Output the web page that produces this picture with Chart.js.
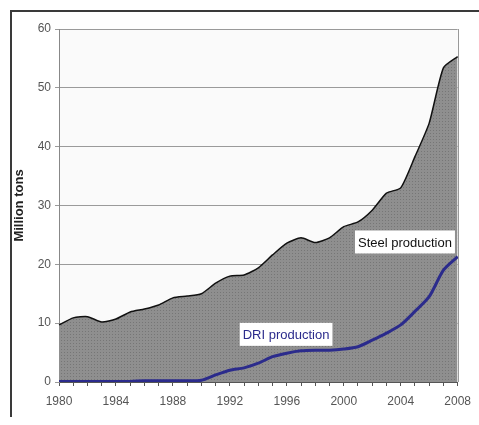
<!DOCTYPE html>
<html>
<head>
<meta charset="utf-8">
<script src="https://cdn.jsdelivr.net/npm/chart.js@4.4.1/dist/chart.umd.min.js"></script>
<style>
  html, body { margin: 0; padding: 0; background: #fff; }
  #wrap { position: relative; width: 479px; height: 425px; }
  #frame { position: absolute; left: 10px; top: 10px; width: 469px; height: 405px;
           border-top: 2px solid #3a3a3a; border-left: 2px solid #3a3a3a; pointer-events: none; }
</style>
</head>
<body>
<div id="wrap">
  <canvas id="grafico" width="479" height="425"></canvas>
  <div id="frame"></div>
</div>
<script>
// years 1980..2008
const anios = [];
for (let a = 1980; a <= 2008; a++) anios.push(String(a));

// values (million tons)
const acero = [9.7, 10.9, 11.1, 10.2, 10.7, 11.9, 12.4, 13.1, 14.3, 14.6,
               15.0, 16.8, 18.0, 18.2, 19.4, 21.6, 23.6, 24.5, 23.7, 24.5,
               26.4, 27.2, 29.2, 32.1, 33.0, 38.3, 44.0, 53.4, 55.3];
const dri = [0.1, 0.1, 0.1, 0.1, 0.1, 0.1, 0.2, 0.2, 0.2, 0.2,
             0.3, 1.2, 2.0, 2.4, 3.2, 4.3, 4.9, 5.3, 5.4, 5.4,
             5.6, 6.0, 7.1, 8.3, 9.7, 12.0, 14.5, 19.0, 21.3];
const ticksY = [0, 10, 20, 30, 40, 50, 60];

// label boxes anchored in data coordinates (index on x, value on y)
const etiquetas = [
    { texto: "Steel production", x: 24.3, y: 23.8, color: "#111" },
    { texto: "DRI production", x: 15.95, y: 8.1, color: "#2b2b8c" }
];

function crearPatron() {
    const c = document.createElement("canvas");
    c.width = 3; c.height = 3;
    const g = c.getContext("2d");
    g.fillStyle = "#8f8f8f";
    g.fillRect(0, 0, 3, 3);
    g.fillStyle = "#767676";
    g.fillRect(1, 1, 1, 1);
    return g.createPattern(c, "repeat");
}

const fondoPlugin = {
    id: "fondo",
    beforeDraw(chart) {
        const { ctx, chartArea: a } = chart;
        ctx.save();
        ctx.fillStyle = "#fafafa";
        ctx.fillRect(a.left, a.top, a.right - a.left, a.bottom - a.top);
        ctx.restore();
    },
    afterDraw(chart) {
        const { ctx, chartArea: a } = chart;
        ctx.save();
        ctx.strokeStyle = "#999";
        ctx.lineWidth = 1;
        ctx.beginPath();
        ctx.moveTo(Math.round(a.right) + 0.5, a.top);
        ctx.lineTo(Math.round(a.right) + 0.5, a.bottom);
        ctx.stroke();
        ctx.restore();
    }
};

const etiquetasPlugin = {
    id: "etiquetas",
    afterDatasetsDraw(chart) {
        const ctx = chart.ctx;
        const sx = chart.scales.x, sy = chart.scales.y;
        ctx.save();
        ctx.font = "13px 'Liberation Sans', Arial, sans-serif";
        ctx.textAlign = "center";
        ctx.textBaseline = "middle";
        etiquetas.forEach((e) => {
            const px = sx.getPixelForValue(e.x);
            const py = sy.getPixelForValue(e.y);
            const w = ctx.measureText(e.texto).width + 6;
            const h = 23;
            ctx.fillStyle = "#fff";
            ctx.fillRect(px - w / 2, py - h / 2, w, h);
            ctx.fillStyle = e.color;
            ctx.fillText(e.texto, px, py + 1);
        });
        ctx.restore();
    }
};

const ctx = document.getElementById("grafico").getContext("2d");
new Chart(ctx, {
    type: "line",
    data: {
        labels: anios,
        datasets: [
            {
                label: "DRI production",
                data: dri,
                borderColor: "#2b2b8c",
                borderWidth: 3,
                pointRadius: 0,
                fill: false,
                tension: 0.25,
                order: 0
            },
            {
                label: "Steel production",
                data: acero,
                borderColor: "#111",
                borderWidth: 1.5,
                backgroundColor: crearPatron(),
                pointRadius: 0,
                fill: "origin",
                tension: 0.2,
                order: 1
            }
        ]
    },
    options: {
        responsive: false,
        animation: false,
        layout: { padding: { left: 0, top: 29, right: 20, bottom: 0 } },
        plugins: { legend: { display: false }, tooltip: { enabled: false } },
        scales: {
            x: {
                offset: false,
                afterFit: (s) => { s.height = 43; },
                border: { color: "#555", width: 1 },
                grid: { drawOnChartArea: false, drawTicks: true, tickLength: 4, color: "#555" },
                ticks: {
                    autoSkip: false,
                    maxRotation: 0,
                    padding: 8,
                    color: "#555",
                    font: { family: "'Liberation Sans', Arial, sans-serif", size: 12 },
                    callback: function (v, i) { return (i % 4 === 0) ? anios[i] : ""; }
                }
            },
            y: {
                min: 0,
                max: 60,
                afterFit: (s) => { s.width = 59; },
                afterBuildTicks: (s) => { s.ticks = ticksY.map((v) => ({ value: v })); },
                border: { color: "#888", width: 1 },
                grid: { color: "#9a9a9a", lineWidth: 1, tickLength: 4 },
                ticks: {
                    padding: 4,
                    color: "#555",
                    font: { family: "'Liberation Sans', Arial, sans-serif", size: 12 }
                },
                title: {
                    display: true,
                    text: "Million tons",
                    color: "#222",
                    padding: { top: 12, bottom: 0 },
                    font: { family: "'Liberation Sans', Arial, sans-serif", size: 13, weight: "bold" }
                }
            }
        }
    },
    plugins: [fondoPlugin, etiquetasPlugin]
});
</script>
</body>
</html>
